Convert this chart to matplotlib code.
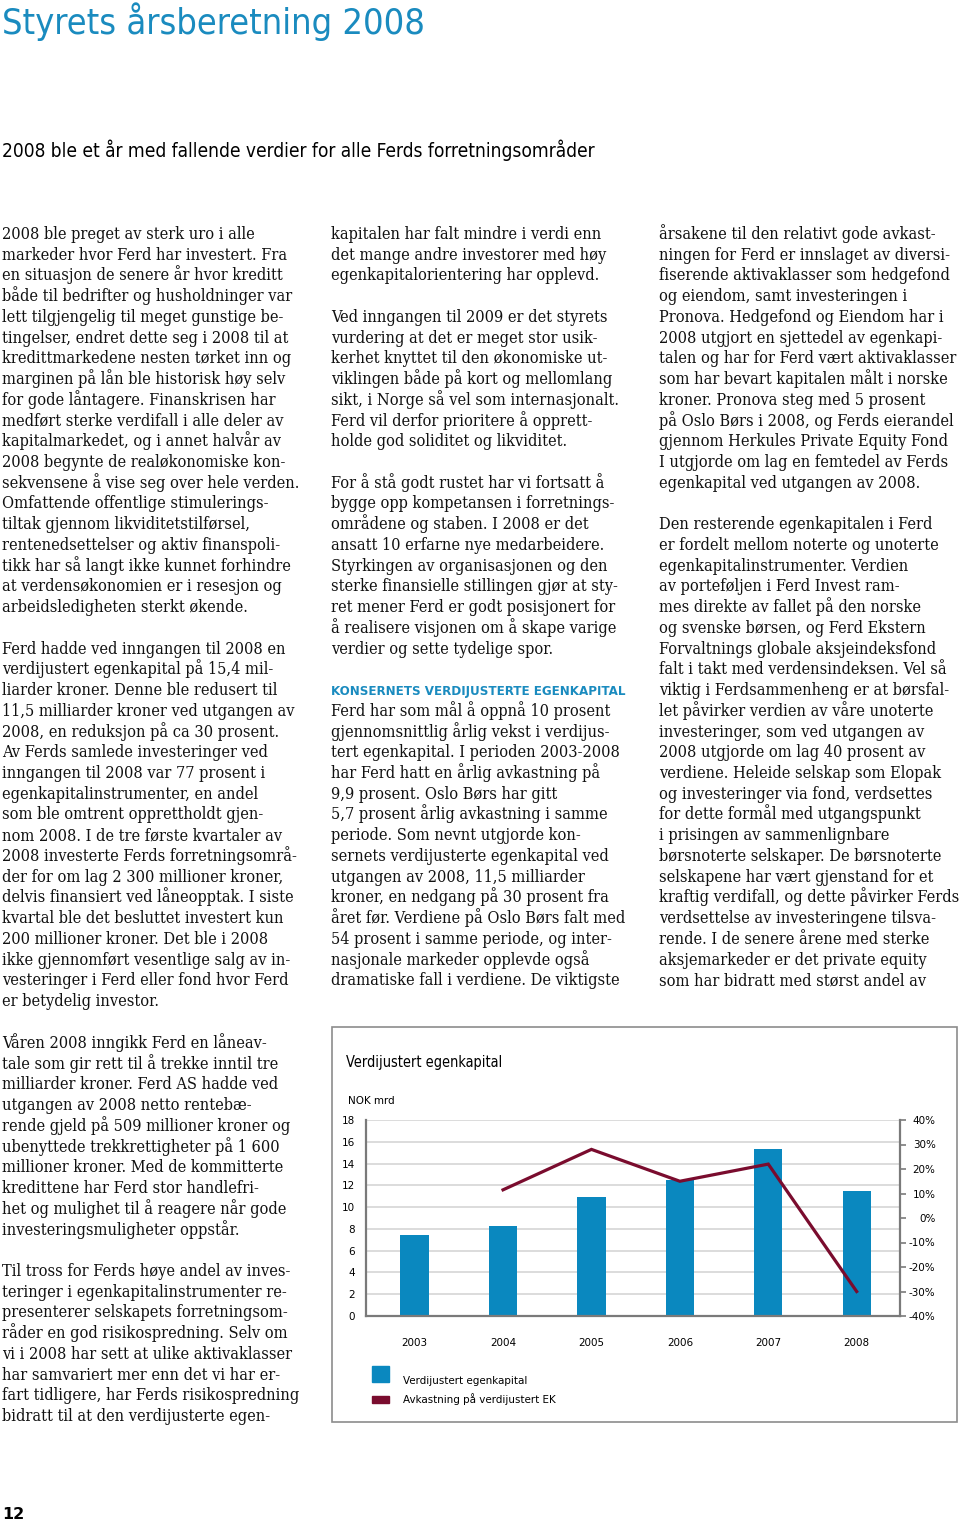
import matplotlib
matplotlib.use("Agg")
import matplotlib.pyplot as plt
from matplotlib.patches import Rectangle

# chart data
years = ["2003", "2004", "2005", "2006", "2007", "2008"]
equity = [7.4, 8.3, 10.9, 12.5, 15.3, 11.5]          # NOK mrd
return_years = ["2004", "2005", "2006", "2007", "2008"]
returns = [11.5, 28.0, 15.0, 22.0, -30.0]             # percent
left_ticks = [0, 2, 4, 6, 8, 10, 12, 14, 16, 18]
right_ticks = [-40, -30, -20, -10, 0, 10, 20, 30, 40]

title = "Styrets årsberetning 2008"
subtitle = "2008 ble et år med fallende verdier for alle Ferds forretningsområder"
heading2 = "KONSERNETS VERDIJUSTERTE EGENKAPITAL"

col1 = [
    "2008 ble preget av sterk uro i alle",
    "markeder hvor Ferd har investert. Fra",
    "en situasjon de senere år hvor kreditt",
    "både til bedrifter og husholdninger var",
    "lett tilgjengelig til meget gunstige be-",
    "tingelser, endret dette seg i 2008 til at",
    "kredittmarkedene nesten tørket inn og",
    "marginen på lån ble historisk høy selv",
    "for gode låntagere. Finanskrisen har",
    "medført sterke verdifall i alle deler av",
    "kapitalmarkedet, og i annet halvår av",
    "2008 begynte de realøkonomiske kon-",
    "sekvensene å vise seg over hele verden.",
    "Omfattende offentlige stimulerings-",
    "tiltak gjennom likviditetstilførsel,",
    "rentenedsettelser og aktiv finanspoli-",
    "tikk har så langt ikke kunnet forhindre",
    "at verdensøkonomien er i resesjon og",
    "arbeidsledigheten sterkt økende.",
    "",
    "Ferd hadde ved inngangen til 2008 en",
    "verdijustert egenkapital på 15,4 mil-",
    "liarder kroner. Denne ble redusert til",
    "11,5 milliarder kroner ved utgangen av",
    "2008, en reduksjon på ca 30 prosent.",
    "Av Ferds samlede investeringer ved",
    "inngangen til 2008 var 77 prosent i",
    "egenkapitalinstrumenter, en andel",
    "som ble omtrent opprettholdt gjen-",
    "nom 2008. I de tre første kvartaler av",
    "2008 investerte Ferds forretningsområ-",
    "der for om lag 2 300 millioner kroner,",
    "delvis finansiert ved låneopptak. I siste",
    "kvartal ble det besluttet investert kun",
    "200 millioner kroner. Det ble i 2008",
    "ikke gjennomført vesentlige salg av in-",
    "vesteringer i Ferd eller fond hvor Ferd",
    "er betydelig investor.",
]

col1b = [
    "Våren 2008 inngikk Ferd en låneav-",
    "tale som gir rett til å trekke inntil tre",
    "milliarder kroner. Ferd AS hadde ved",
    "utgangen av 2008 netto rentebæ-",
    "rende gjeld på 509 millioner kroner og",
    "ubenyttede trekkrettigheter på 1 600",
    "millioner kroner. Med de kommitterte",
    "kredittene har Ferd stor handlefri-",
    "het og mulighet til å reagere når gode",
    "investeringsmuligheter oppstår.",
    "",
    "Til tross for Ferds høye andel av inves-",
    "teringer i egenkapitalinstrumenter re-",
    "presenterer selskapets forretningsom-",
    "råder en god risikospredning. Selv om",
    "vi i 2008 har sett at ulike aktivaklasser",
    "har samvariert mer enn det vi har er-",
    "fart tidligere, har Ferds risikospredning",
    "bidratt til at den verdijusterte egen-",
]

col2 = [
    "kapitalen har falt mindre i verdi enn",
    "det mange andre investorer med høy",
    "egenkapitalorientering har opplevd.",
    "",
    "Ved inngangen til 2009 er det styrets",
    "vurdering at det er meget stor usik-",
    "kerhet knyttet til den økonomiske ut-",
    "viklingen både på kort og mellomlang",
    "sikt, i Norge så vel som internasjonalt.",
    "Ferd vil derfor prioritere å opprett-",
    "holde god soliditet og likviditet.",
    "",
    "For å stå godt rustet har vi fortsatt å",
    "bygge opp kompetansen i forretnings-",
    "områdene og staben. I 2008 er det",
    "ansatt 10 erfarne nye medarbeidere.",
    "Styrkingen av organisasjonen og den",
    "sterke finansielle stillingen gjør at sty-",
    "ret mener Ferd er godt posisjonert for",
    "å realisere visjonen om å skape varige",
    "verdier og sette tydelige spor.",
    "",
    None,
    "Ferd har som mål å oppnå 10 prosent",
    "gjennomsnittlig årlig vekst i verdijus-",
    "tert egenkapital. I perioden 2003-2008",
    "har Ferd hatt en årlig avkastning på",
    "9,9 prosent. Oslo Børs har gitt",
    "5,7 prosent årlig avkastning i samme",
    "periode. Som nevnt utgjorde kon-",
    "sernets verdijusterte egenkapital ved",
    "utgangen av 2008, 11,5 milliarder",
    "kroner, en nedgang på 30 prosent fra",
    "året før. Verdiene på Oslo Børs falt med",
    "54 prosent i samme periode, og inter-",
    "nasjonale markeder opplevde også",
    "dramatiske fall i verdiene. De viktigste",
]

col3 = [
    "årsakene til den relativt gode avkast-",
    "ningen for Ferd er innslaget av diversi-",
    "fiserende aktivaklasser som hedgefond",
    "og eiendom, samt investeringen i",
    "Pronova. Hedgefond og Eiendom har i",
    "2008 utgjort en sjettedel av egenkapi-",
    "talen og har for Ferd vært aktivaklasser",
    "som har bevart kapitalen målt i norske",
    "kroner. Pronova steg med 5 prosent",
    "på Oslo Børs i 2008, og Ferds eierandel",
    "gjennom Herkules Private Equity Fond",
    "I utgjorde om lag en femtedel av Ferds",
    "egenkapital ved utgangen av 2008.",
    "",
    "Den resterende egenkapitalen i Ferd",
    "er fordelt mellom noterte og unoterte",
    "egenkapitalinstrumenter. Verdien",
    "av porteføljen i Ferd Invest ram-",
    "mes direkte av fallet på den norske",
    "og svenske børsen, og Ferd Ekstern",
    "Forvaltnings globale aksjeindeksfond",
    "falt i takt med verdensindeksen. Vel så",
    "viktig i Ferdsammenheng er at børsfal-",
    "let påvirker verdien av våre unoterte",
    "investeringer, som ved utgangen av",
    "2008 utgjorde om lag 40 prosent av",
    "verdiene. Heleide selskap som Elopak",
    "og investeringer via fond, verdsettes",
    "for dette formål med utgangspunkt",
    "i prisingen av sammenlignbare",
    "børsnoterte selskaper. De børsnoterte",
    "selskapene har vært gjenstand for et",
    "kraftig verdifall, og dette påvirker Ferds",
    "verdsettelse av investeringene tilsva-",
    "rende. I de senere årene med sterke",
    "aksjemarkeder er det private equity",
    "som har bidratt med størst andel av",
]

W, H = 960, 1522
DPI = 100
BLUE = "#0a88bf"
TITLE_BLUE = "#1a8bbf"
RED = "#7a0c2e"
SANS = ["Liberation Sans Narrow", "DejaVu Sans"]
SERIF = "DejaVu Serif"


def fx(x):
    return x / W


def fy(y):
    return 1 - y / H


def pt(px):
    return px * 72.0 / DPI


fig = plt.figure(figsize=(W / DPI, H / DPI), dpi=DPI)
fig.patch.set_facecolor("white")

# headings
fig.text(fx(2), fy(34), title, fontsize=pt(36), color=TITLE_BLUE,
         family=SANS, fontstretch="condensed", va="baseline")
fig.text(fx(2), fy(157), subtitle, fontsize=pt(19), color="black",
         family=SANS, fontstretch="condensed", va="baseline",
         weight="medium")

# body text
LINE = 20.73
BODY = pt(16.2)


def column(lines, x, y0):
    for i, s in enumerate(lines):
        if not s:
            continue
        fig.text(fx(x), fy(y0 + i * LINE + 6), s, fontsize=BODY,
                 family=SERIF, fontstretch="condensed", va="baseline",
                 color="#111111")


column(col1, 2, 233)
column(col1b, 2, 1042)
column(col2, 331, 233)
column(col3, 659, 233)
fig.text(fx(331), fy(233 + 22 * LINE + 6), heading2, fontsize=pt(13.3),
         color=TITLE_BLUE, family=SANS, fontstretch="condensed",
         weight="bold", va="baseline")

# page number
fig.text(fx(2), fy(1519), "12", fontsize=pt(16), family=SANS,
         weight="bold", va="baseline")

# chart frame
fig.add_artist(Rectangle((fx(332), fy(1422)), fx(957) - fx(332),
                         fy(1027) - fy(1422), transform=fig.transFigure,
                         fill=False, edgecolor="#8c8c8c", lw=1.2))
fig.text(fx(346), fy(1067), "Verdijustert egenkapital", fontsize=pt(14.5),
         family=SANS, fontstretch="condensed", va="baseline")
fig.text(fx(348), fy(1104), "NOK mrd", fontsize=pt(11.5), family=SANS,
         fontstretch="condensed", va="baseline")

ax = fig.add_axes([fx(366), fy(1316), fx(900) - fx(366),
                   fy(1120) - fy(1316)])
xpos = list(range(len(years)))
ax.bar(xpos, equity, width=0.32, color=BLUE, zorder=2)
ax.set_xlim(-0.55, 5.49)
ax.set_ylim(0, 18)
ax.set_yticks(left_ticks)
ax.set_xticks(xpos)
ax.set_xticklabels(years)
ax.grid(axis="y", color="#d6d6d6", lw=1.2, zorder=0)
ax.set_axisbelow(True)
for side in ["top", "right"]:
    ax.spines[side].set_visible(False)
for side in ["left", "bottom"]:
    ax.spines[side].set_color("#7a7a7a")
    ax.spines[side].set_linewidth(1.6)
ax.tick_params(axis="y", length=0, pad=8, labelsize=pt(11.5))
ax.tick_params(axis="x", length=0, pad=16, labelsize=pt(11.5))
for lab in ax.get_xticklabels() + ax.get_yticklabels():
    lab.set_family(SANS)
    lab.set_fontstretch("condensed")

ax2 = ax.twinx()
ax2.set_ylim(-40, 40)
ax2.set_yticks(right_ticks)
ax2.set_yticklabels(["%d%%" % v for v in right_ticks])
rx = [years.index(y) for y in return_years]
ax2.plot(rx, returns, color=RED, lw=pt(3.2), solid_joinstyle="miter", zorder=3)
for side in ["top", "left", "bottom"]:
    ax2.spines[side].set_visible(False)
ax2.spines["right"].set_color("#7a7a7a")
ax2.spines["right"].set_linewidth(1.6)
ax2.tick_params(axis="y", direction="out", length=4, width=1.2,
                color="#7a7a7a", pad=pt(30), labelsize=pt(11.5))
for lab in ax2.get_yticklabels():
    lab.set_family(SANS)
    lab.set_fontstretch("condensed")
    lab.set_horizontalalignment("right")

# legend
fig.add_artist(Rectangle((fx(372), fy(1382)), fx(389) - fx(372),
                         fy(1366) - fy(1382), transform=fig.transFigure,
                         color=BLUE))
fig.add_artist(Rectangle((fx(372), fy(1403)), fx(389) - fx(372),
                         fy(1396) - fy(1403), transform=fig.transFigure,
                         color=RED))
fig.text(fx(403), fy(1384), "Verdijustert egenkapital", fontsize=pt(11.5),
         family=SANS, fontstretch="condensed", va="baseline")
fig.text(fx(403), fy(1403), "Avkastning på verdijustert EK",
         fontsize=pt(11.5), family=SANS, fontstretch="condensed",
         va="baseline")

fig.savefig("out.png", dpi=DPI)
